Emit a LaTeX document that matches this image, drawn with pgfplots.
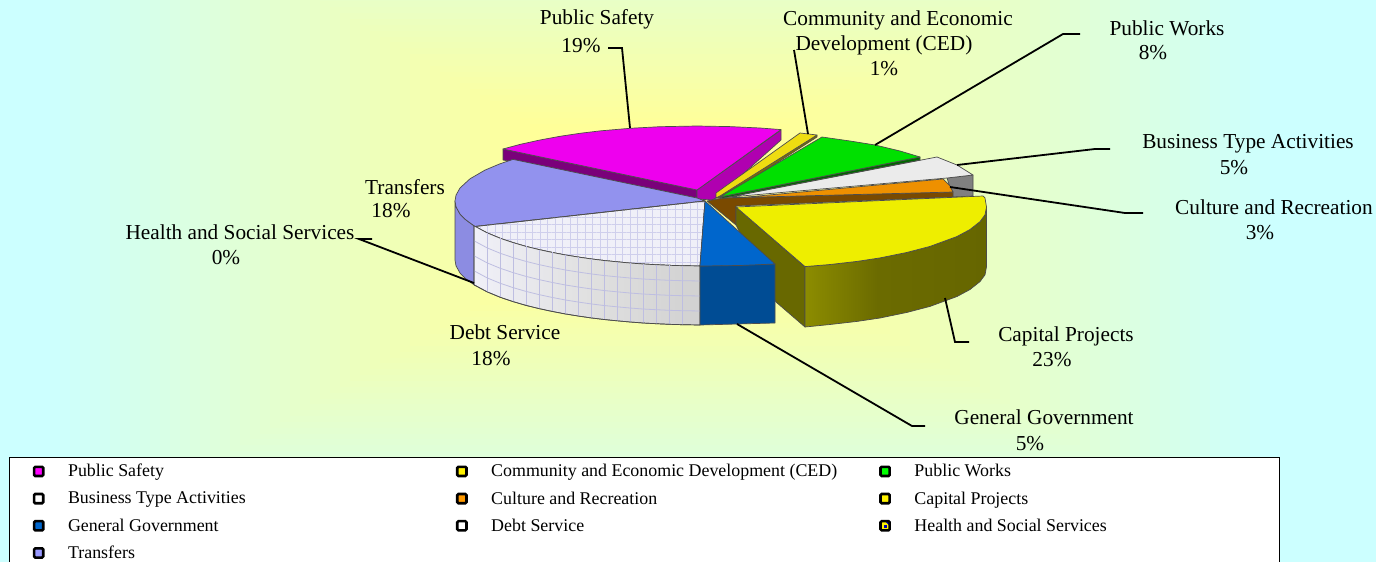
\documentclass[border=0pt]{standalone}
\usepackage{pgfplots}
\usepackage{pgfplotstable}
\usepackage{fontspec}
\setmainfont{Liberation Serif}
\pgfplotsset{compat=1.18}
\usetikzlibrary{patterns.meta}
\definecolor{bgY}{HTML}{FFFF99}
\definecolor{bgC}{HTML}{CCFFFF}
\definecolor{lMag}{HTML}{FF00FF}
\definecolor{lGrn}{HTML}{00FF00}
\definecolor{lOrg}{HTML}{FF9900}
\definecolor{lBlu}{HTML}{0066CC}
\definecolor{lPer}{HTML}{9999FF}
\definecolor{hatchc}{HTML}{CFCFEC}
\definecolor{gridc}{HTML}{BEBEE1}
\definecolor{debttop}{HTML}{F0F0F8}
\pgfdeclarehorizontalshading{capside}{100bp}{color(0bp)=(yellow!55!black);color(25bp)=(yellow!55!black);color(45bp)=(yellow!42!black);color(75bp)=(yellow!40!black);color(100bp)=(yellow!45!black)}
\pgfdeclarehorizontalshading{debtside}{100bp}{color(0bp)=(debttop);color(25bp)=(debttop);color(50bp)=(white!88!black);color(75bp)=(white!82!black);color(100bp)=(white!78!black)}
\pgfplotstableread{
x t a b c d
474 225.8 240.8 255.8 270.8 284.8
487 232.8 247.8 262.8 277.8 291.8
500 238.2 253.2 268.2 283.2 297.2
513 242.6 257.6 272.6 287.6 301.6
526 246.4 261.4 276.4 291.4 305.4
539 249.6 264.6 279.6 294.6 308.6
552 252.4 267.4 282.4 297.4 311.4
565 254.9 269.9 284.9 299.9 313.9
578 257.0 272.0 287.0 302.0 316.0
591 258.9 273.9 288.9 303.9 317.9
604 260.5 275.5 290.5 305.5 319.5
617 261.8 276.8 291.8 306.8 320.8
630 263.0 278.0 293.0 308.0 322.0
643 264.0 279.0 294.0 309.0 323.0
656 264.7 279.7 294.7 309.7 323.7
669 265.3 280.3 295.3 310.3 324.3
682 265.7 280.7 295.7 310.7 324.7
695 265.9 280.9 295.9 310.9 324.9
700 266.0 281.0 296.0 311.0 325.0
}\debtarc
\tikzset{face/.style={draw=black!70,line width=0.7pt,line join=round}}
\definecolor{cA}{RGB}{122,0,122}
\definecolor{cB}{RGB}{176,0,176}
\definecolor{cC}{RGB}{238,0,238}
\definecolor{cD}{RGB}{140,140,226}
\definecolor{cE}{RGB}{146,146,238}
\definecolor{cF}{RGB}{122,74,0}
\definecolor{cG}{RGB}{238,144,0}
\definecolor{cH}{RGB}{128,112,0}
\definecolor{cI}{RGB}{238,221,17}
\definecolor{cJ}{RGB}{0,102,0}
\definecolor{cK}{RGB}{0,224,0}
\definecolor{cL}{RGB}{104,104,0}
\definecolor{cM}{RGB}{238,238,0}
\definecolor{cN}{RGB}{0,76,148}
\definecolor{cO}{RGB}{0,102,204}
\newcommand{\lab}[3]{\node[anchor=base,font=\fontsize{21.3}{24}\selectfont,inner sep=0pt] at (axis cs:#1,#2) {#3};}
\pgfplotsset{swatch/.style={legend image code/.code={
  \path (-29pt,0pt) (27pt,0pt);
  \draw[black,line width=2.6pt,rounded corners=1.2pt,fill=#1] (-4.6pt,-4.6pt) rectangle (4.6pt,4.6pt);}},
  swatchh/.style={legend image code/.code={
  \path (-29pt,0pt) (27pt,0pt);
  \fill[yellow] (-4.6pt,-4.6pt) rectangle (4.6pt,4.6pt);
  \fill[black!30!blue] (0.5pt,4.6pt) -- (4.6pt,4.6pt) -- (4.6pt,0.5pt) -- cycle;
  \fill[black!30!blue] (-0.5pt,0.5pt) rectangle (1.5pt,-1.5pt);
  \draw[black,line width=2.6pt,rounded corners=1.2pt] (-4.6pt,-4.6pt) rectangle (4.6pt,4.6pt);}}}
\begin{document}
\begin{tikzpicture}
\useasboundingbox (0,0) rectangle (1376pt,562pt);
\clip (0,0) rectangle (1376pt,562pt);
% rectangular path gradient of the plot background: nested bands
\fill[bgC] (0,0) rectangle (1376pt,562pt);
\foreach \i in {0,...,62}{
  \pgfmathsetmacro{\f}{1-\i/62}
  \pgfmathsetmacro{\pc}{max(0,100*(\f-0.21)/0.79)}
  \pgfmathsetmacro{\xa}{660-620*\f}
  \pgfmathsetmacro{\xb}{660+620*\f}
  \pgfmathsetmacro{\ya}{562-200+362*\f}
  \pgfmathsetmacro{\yb}{562-200-362*\f}
  \fill[color=bgC!\pc!bgY] (\xa pt,\ya pt) rectangle (\xb pt,\yb pt);
}
\begin{axis}[at={(0,0)},anchor=south west,width=1376pt,height=562pt,scale only axis,
  xmin=0,xmax=1376,ymin=0,ymax=562,y dir=reverse,hide axis,clip=false,
  unbounded coords=jump,
  legend columns=3,legend cell align=left,
  legend style={at={(axis cs:9,457)},anchor=north west,draw=black,line width=0.7pt,fill=white,
    font=\fontsize{17.9}{20}\selectfont,inner xsep=0pt,inner ysep=5pt,
    row sep=9.2pt,column sep=0pt}]
% magenta walls
\addplot[face,fill=cA,forget plot] coordinates {(503,149)(503,160)(697,198)(697,190)} --cycle;
\addplot[face,fill=cB,forget plot] coordinates {(697,190)(781,130)(781,140)(716,198)(712,200)(697,199)} --cycle;
\addplot[face,fill=cC,forget plot] coordinates {(503,149)(520,144.4)(540,140)(560,136.3)(580,133.3)(600,130.9)(630,128.3)(660,126.7)(697,126)(730,126.6)(760,128)(781,129.6)(697,190)} --cycle;
% transfers
\addplot[face,fill=cD,forget plot] coordinates {(455,201)(456,206.8)(460,214)(465,219.2)(475,226.5)(475,285.5)(465,278.2)(460,273)(456,265.8)(455,260)} --cycle;
\addplot[face,fill=cE,forget plot] coordinates {(513,159.4)(500,163.8)(485,170.1)(470,178.8)(460,188)(456,195.2)(455,201)(456,206.8)(460,214)(465,219.2)(475,226.5)(705,201)(697,198)} --cycle;
% business
\addplot[face,fill=black!50,forget plot] coordinates {(947,178)(973,175)(973,196)(953,197)} --cycle;
\addplot[face,fill=black!8,forget plot] coordinates {(730,197)(937,157)(957,165)(973,175)(947,178)} --cycle;
% culture
\addplot[face,fill=cF,forget plot] coordinates {(707,201)(723,198)(953,192)(953,197)(736,206)(736,225)} --cycle;
\addplot[face,fill=cG,forget plot] coordinates {(723,198)(747,197)(943,179)(950,186)(953,192)} --cycle;
% CED
\addplot[face,fill=cH,forget plot] coordinates {(817,135)(817,137)(722,198)(716,198)} --cycle;
\addplot[face,fill=cI,forget plot] coordinates {(716,193)(800,133)(817,135)(720,196)(716,198)} --cycle;
% works
\addplot[face,fill=cJ,forget plot] coordinates {(920,157)(920,160)(723,198)(720,197)} --cycle;
\addplot[face,fill=cK,forget plot] coordinates {(720,197)(822,137)(850,141)(875,145)(900,151)(920,157)} --cycle;
% capital
\addplot[face,fill=cL,forget plot] coordinates {(736,207)(805,267)(805,327)(776,302)(736,225)} --cycle;
\addplot[face,shading=capside,forget plot] coordinates {(805,266.6)(830,264.5)(857,261.4)(880,257.9)(907,252.4)(930,246.4)(957,236.5)(970,229.5)(980,221.6)(985,214.8)(986.5,207)(986.5,267)(985,274.8)(980,281.6)(970,289.5)(957,296.5)(930,306.4)(907,312.4)(880,318)(857,321.4)(830,324.5)(805,327)} --cycle;
\addplot[face,fill=cM,forget plot] coordinates {(736,207)(983,196)(985,198)(986.5,207)(985,214.8)(980,221.6)(970,229.5)(957,236.5)(930,246.4)(907,252.4)(880,257.9)(857,261.4)(830,264.5)(805,266.6)} --cycle;
% debt
\addplot[face,fill=debttop,forget plot] coordinates {(705,201)(475,226.5)(487,232.8)(500,238.2)(513,242.6)(526,246.4)(539,249.6)(552,252.4)(565,254.9)(578,257)(591,258.9)(604,260.5)(617,261.8)(630,263)(643,264)(656,264.7)(669,265.3)(682,265.7)(700,266)} --cycle;
\addplot[draw=none,pattern={Hatch[angle=0,distance=7.5pt,line width=0.6pt]},pattern color=hatchc,forget plot] coordinates {(705,201)(475,226.5)(487,232.8)(500,238.2)(513,242.6)(526,246.4)(539,249.6)(552,252.4)(565,254.9)(578,257)(591,258.9)(604,260.5)(617,261.8)(630,263)(643,264)(656,264.7)(669,265.3)(682,265.7)(700,266)} --cycle;
\addplot[face,fill=none,forget plot] coordinates {(705,201)(475,226.5)(487,232.8)(500,238.2)(513,242.6)(526,246.4)(539,249.6)(552,252.4)(565,254.9)(578,257)(591,258.9)(604,260.5)(617,261.8)(630,263)(643,264)(656,264.7)(669,265.3)(682,265.7)(700,266)} --cycle;
\addplot[face,shading=debtside,forget plot] coordinates {(474,225.8)(487,232.8)(500,238.2)(513,242.6)(526,246.4)(539,249.6)(552,252.4)(565,254.9)(578,257)(591,258.9)(604,260.5)(617,261.8)(630,263)(643,264)(656,264.7)(669,265.3)(682,265.7)(700,266)(700,325)(682,324.7)(669,324.3)(656,323.7)(643,323)(630,322)(617,320.8)(604,319.5)(591,317.9)(578,316)(565,313.9)(552,311.4)(539,308.6)(526,305.4)(513,301.6)(500,297.2)(487,291.8)(474,284.8)} --cycle;
\addplot[draw=gridc,line width=0.8pt,forget plot] table[x=x,y=a] {\debtarc};
\addplot[draw=gridc,line width=0.8pt,forget plot] table[x=x,y=b] {\debtarc};
\addplot[draw=gridc,line width=0.8pt,forget plot] table[x=x,y=c] {\debtarc};
\addplot[draw=gridc,line width=0.8pt,forget plot] coordinates {
(487,232.8)(487,291.8)(487,nan)(500,238.2)(500,297.2)(500,nan)(513,242.6)(513,301.6)(513,nan)(526,246.4)(526,305.4)(526,nan)
(539,249.6)(539,308.6)(539,nan)(552,252.4)(552,311.4)(552,nan)(565,254.9)(565,313.9)(565,nan)(578,257)(578,316)(578,nan)
(591,258.9)(591,317.9)(591,nan)(604,260.5)(604,319.5)(604,nan)(617,261.8)(617,320.8)(617,nan)(630,263)(630,322)(630,nan)
(643,264)(643,323)(643,nan)(656,264.7)(656,323.7)(656,nan)(669,265.3)(669,324.3)(669,nan)(682,265.7)(682,324.7)(682,nan)};
\addplot[face,fill=none,forget plot] coordinates {(474,225.8)(474,284.8)(487,291.8)(500,297.2)(513,301.6)(526,305.4)(539,308.6)(552,311.4)(565,313.9)(578,316)(591,317.9)(604,319.5)(617,320.8)(630,322)(643,323)(656,323.7)(669,324.3)(682,324.7)(700,325)};
% general government
\addplot[face,fill=cN,forget plot] coordinates {(700,266)(775,264)(775,323)(700,325)} --cycle;
\addplot[face,fill=cO,forget plot] coordinates {(705,201)(700,266)(740,265.5)(775,264)} --cycle;
% leader lines
\addplot[black,line width=1.8pt,forget plot] coordinates {(608,48)(622,48)(630,128)};
\addplot[black,line width=1.8pt,forget plot] coordinates {(794,50)(808,134)};
\addplot[black,line width=1.8pt,forget plot] coordinates {(1080,34)(1063,34)(875,145)};
\addplot[black,line width=1.8pt,forget plot] coordinates {(1110,149)(1095,149)(957,165)};
\addplot[black,line width=1.8pt,forget plot] coordinates {(1143,213)(1125,213)(950,187)};
\addplot[black,line width=1.8pt,forget plot] coordinates {(969,342)(955,342)(945,298)};
\addplot[black,line width=1.8pt,forget plot] coordinates {(925,426)(912,426)(737,324)};
\addplot[black,line width=1.8pt,forget plot] coordinates {(372,239)(359,239)(474,283)};
% labels
\lab{597}{24}{Public Safety}\lab{581}{52}{19\%}
\lab{898}{25}{Community and Economic}\lab{884}{50}{Development (CED)}\lab{884}{75}{1\%}
\lab{1167}{35}{Public Works}\lab{1153}{59}{8\%}
\lab{1248}{148}{Business Type Activities}\lab{1234}{174}{5\%}
\lab{1274}{214}{Culture and Recreation}\lab{1260}{239}{3\%}
\lab{1066}{341}{Capital Projects}\lab{1052}{366}{23\%}
\lab{1044}{424}{General Government}\lab{1030}{450}{5\%}
\lab{505}{339}{Debt Service}\lab{491}{365}{18\%}
\lab{405}{194}{Transfers}\lab{391}{217}{18\%}
\lab{240}{239}{Health and Social Services}\lab{226}{264}{0\%}
% legend
\addlegendimage{swatch=lMag}\addlegendentry{\makebox[362.5pt][l]{Public Safety}}
\addlegendimage{swatch=yellow}\addlegendentry{\makebox[362.5pt][l]{Community and Economic Development (CED)}}
\addlegendimage{swatch=lGrn}\addlegendentry{\makebox[363pt][l]{Public Works}}
\addlegendimage{swatch=white}\addlegendentry{Business Type Activities}
\addlegendimage{swatch=lOrg}\addlegendentry{Culture and Recreation}
\addlegendimage{swatch=yellow}\addlegendentry{Capital Projects}
\addlegendimage{swatch=lBlu}\addlegendentry{General Government}
\addlegendimage{swatch=white}\addlegendentry{Debt Service}
\addlegendimage{swatchh}\addlegendentry{Health and Social Services}
\addlegendimage{swatch=lPer}\addlegendentry{Transfers}
\end{axis}
\end{tikzpicture}
\end{document}
